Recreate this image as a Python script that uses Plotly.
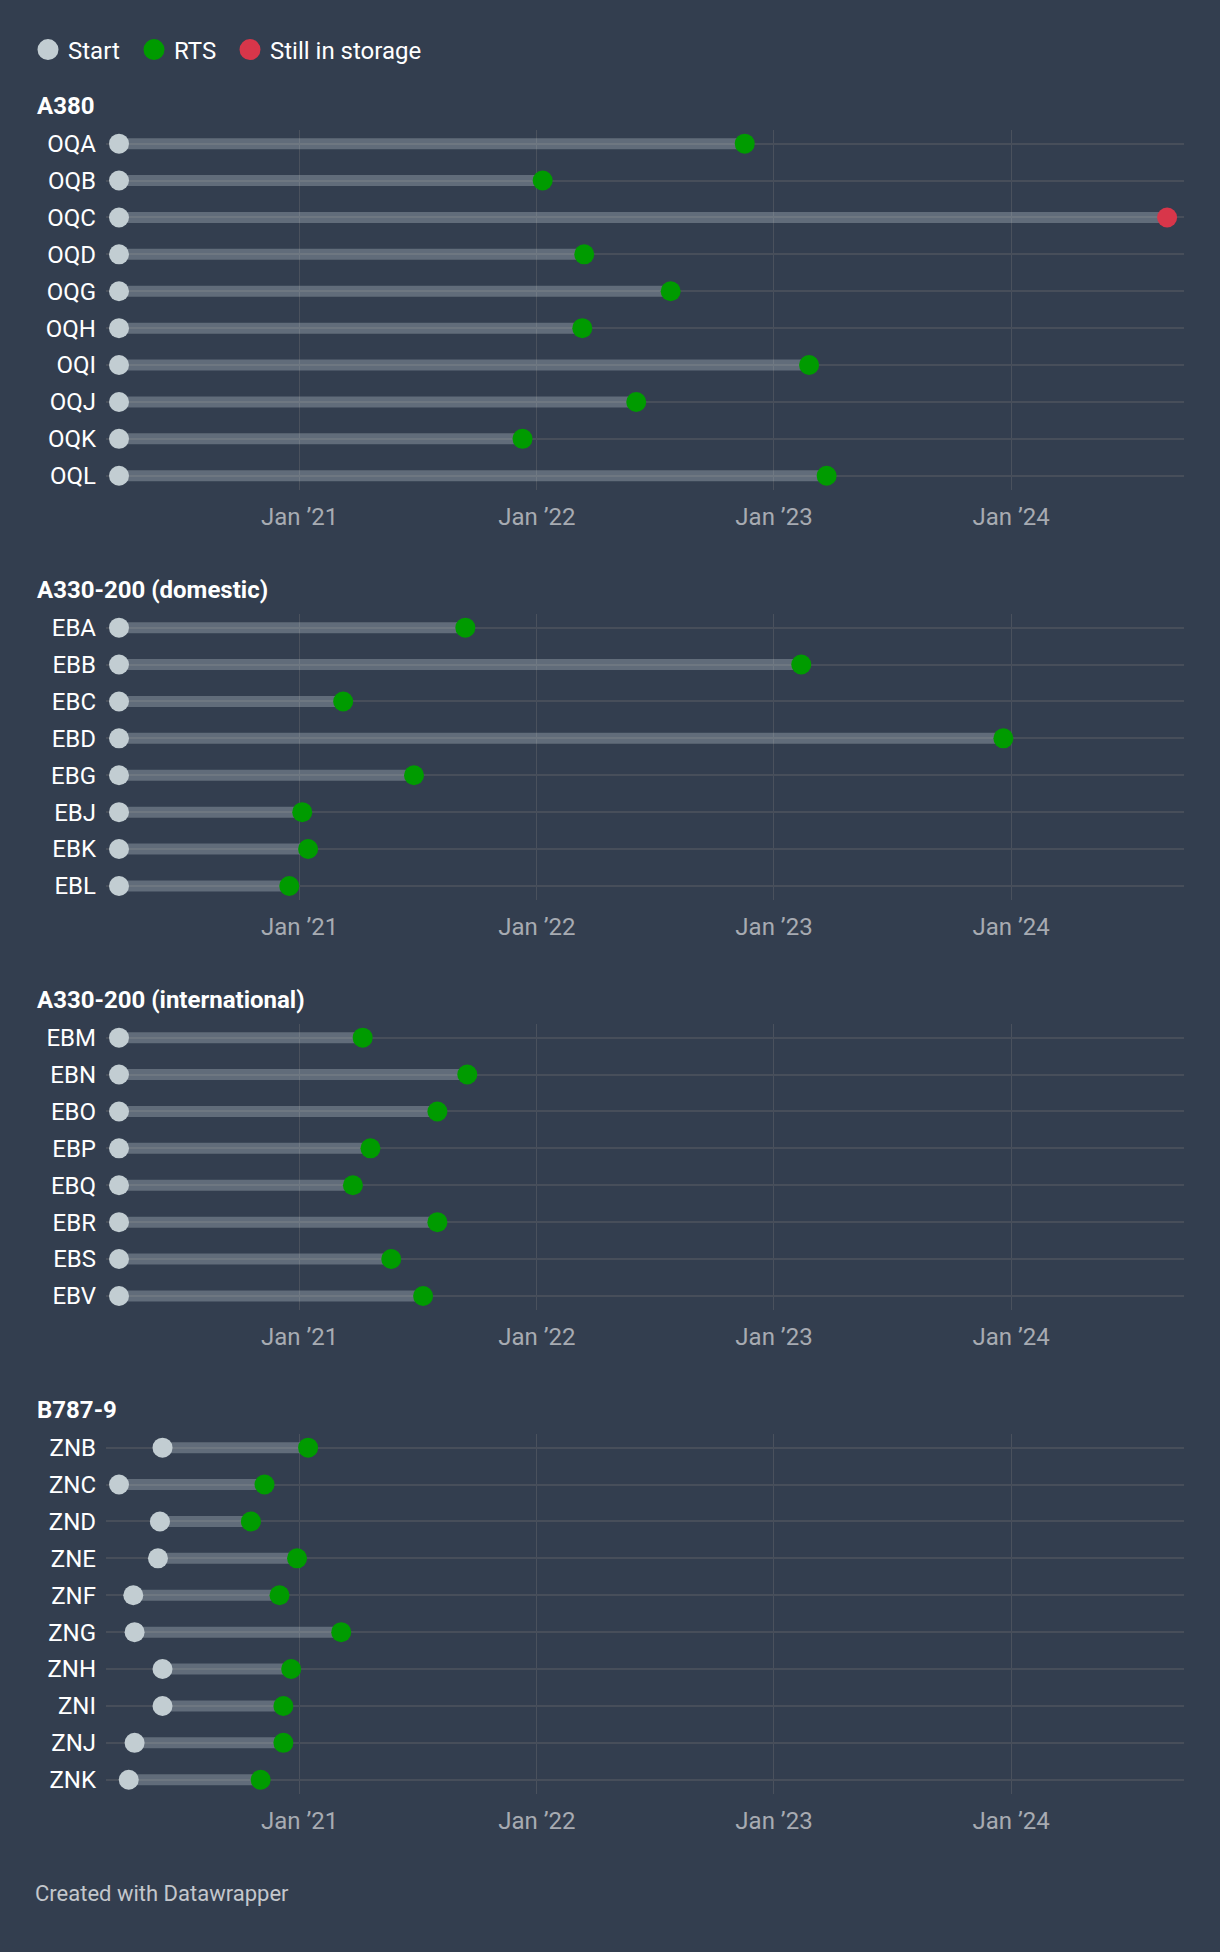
import plotly.graph_objects as go

# ---------------- data ----------------
a380_regs = ["OQA", "OQB", "OQC", "OQD", "OQG", "OQH", "OQI", "OQJ", "OQK", "OQL"]
a380_start = ["2020-03-29"] * 10
a380_end = ["2022-11-17", "2022-01-10", "2024-08-28", "2022-03-15", "2022-07-26",
            "2022-03-12", "2023-02-24", "2022-06-03", "2021-12-10", "2023-03-23"]
a380_status = ["RTS", "RTS", "Still in storage", "RTS", "RTS", "RTS", "RTS", "RTS", "RTS", "RTS"]

dom_regs = ["EBA", "EBB", "EBC", "EBD", "EBG", "EBJ", "EBK", "EBL"]
dom_start = ["2020-03-29"] * 8
dom_end = ["2021-09-13", "2023-02-12", "2021-03-09", "2023-12-20",
           "2021-06-26", "2021-01-05", "2021-01-14", "2020-12-16"]
dom_status = ["RTS"] * 8

int_regs = ["EBM", "EBN", "EBO", "EBP", "EBQ", "EBR", "EBS", "EBV"]
int_start = ["2020-03-29"] * 8
int_end = ["2021-04-08", "2021-09-16", "2021-08-01", "2021-04-20",
           "2021-03-24", "2021-08-01", "2021-05-22", "2021-07-10"]
int_status = ["RTS"] * 8

b787_regs = ["ZNB", "ZNC", "ZND", "ZNE", "ZNF", "ZNG", "ZNH", "ZNI", "ZNJ", "ZNK"]
b787_start = ["2020-06-04", "2020-03-29", "2020-05-31", "2020-05-28", "2020-04-20",
              "2020-04-22", "2020-06-04", "2020-06-04", "2020-04-22", "2020-04-13"]
b787_end = ["2021-01-14", "2020-11-08", "2020-10-18", "2020-12-28", "2020-12-01",
            "2021-03-06", "2020-12-19", "2020-12-07", "2020-12-07", "2020-11-02"]
b787_status = ["RTS"] * 10

panel_titles = ["A380", "A330-200 (domestic)", "A330-200 (international)", "B787-9"]

tick_dates = ["2021-01-01", "2022-01-01", "2023-01-01", "2024-01-01"]
tick_labels = ["Jan \u201921", "Jan \u201922", "Jan \u201923", "Jan \u201924"]

legend_names = ["Start", "RTS", "Still in storage"]

# ---------------- style ----------------
W, H = 1220, 1952
BG = "#333e4f"
START_C = "#c2cdd2"
RTS_C = "#009b00"
STORE_C = "#d8364a"
BAR_C = "rgba(192,204,208,0.33)"
ROWLINE_C = "#474e5a"
GRID_C = "#4a515d"
FONT = "Roboto"
ROW = 36.9
TOPS = [130, 614, 1024, 1434]
X_LEFT, X_RIGHT = 106, 1184
X_RANGE = ["2020-03-09", "2024-09-23"]
MS = 20
LEGEND_X = [28, 134, 230]

panels = [
    (a380_regs, a380_start, a380_end, a380_status),
    (dom_regs, dom_start, dom_end, dom_status),
    (int_regs, int_start, int_end, int_status),
    (b787_regs, b787_start, b787_end, b787_status),
]

fig = go.Figure()

for i, (regs, starts, ends, status) in enumerate(panels):
    sfx = "" if i == 0 else str(i + 1)
    n = len(regs)
    rows = list(range(n))
    top = TOPS[i]
    bottom = top + (n - 1 + 0.76) * ROW

    bx, by = [], []
    for j in rows:
        bx += [starts[j], ends[j], None]
        by += [j, j, None]
    fig.add_trace(go.Scatter(x=bx, y=by, mode="lines",
                             line=dict(color=BAR_C, width=11),
                             xaxis="x" + sfx, yaxis="y" + sfx,
                             hoverinfo="skip", showlegend=False))
    fig.add_trace(go.Scatter(x=starts, y=rows, mode="markers",
                             marker=dict(color=START_C, size=MS),
                             xaxis="x" + sfx, yaxis="y" + sfx,
                             cliponaxis=False, showlegend=False, name="Start"))
    for st, col in (("RTS", RTS_C), ("Still in storage", STORE_C)):
        xs = [ends[j] for j in rows if status[j] == st]
        ys = [j for j in rows if status[j] == st]
        if xs:
            fig.add_trace(go.Scatter(x=xs, y=ys, mode="markers",
                                     marker=dict(color=col, size=MS),
                                     xaxis="x" + sfx, yaxis="y" + sfx,
                                     cliponaxis=False, showlegend=False, name=st))

    fig.layout["xaxis" + sfx] = dict(
        domain=[X_LEFT / W, X_RIGHT / W], range=X_RANGE, type="date",
        anchor="y" + sfx, tickvals=tick_dates, ticktext=tick_labels,
        showgrid=True, gridcolor=GRID_C, gridwidth=1, zeroline=False,
        showline=False, ticks="", ticklabelstandoff=10,
        tickfont=dict(family=FONT, size=24, color="#a7abb2"), fixedrange=True)
    fig.layout["yaxis" + sfx] = dict(
        domain=[1 - bottom / H, 1 - top / H], range=[n - 1 + 0.39, -0.37],
        anchor="x" + sfx, tickmode="array", tickvals=rows, ticktext=regs,
        showgrid=True, gridcolor=ROWLINE_C, gridwidth=2, zeroline=False,
        showline=False, ticks="", ticklabelstandoff=9,
        tickfont=dict(family=FONT, size=24, color="#ffffff"), fixedrange=True)

    fig.add_annotation(text="<b>" + panel_titles[i] + "</b>", xref="paper", yref="paper",
                       x=35 / W, y=1 - (top - 24) / H, xanchor="left", yanchor="middle",
                       showarrow=False, font=dict(family=FONT, size=24, color="#ffffff"))

# legend-only entries, one legend box each
legend_keys = ["legend", "legend2", "legend3"]
for name, col, lk in zip(legend_names, [START_C, RTS_C, STORE_C], legend_keys):
    fig.add_trace(go.Scatter(x=[None], y=[None], mode="markers", name=name,
                             marker=dict(color=col, size=16, line=dict(color=col, width=5)),
                             showlegend=True, legend=lk))

fig.add_annotation(text="Created with Datawrapper", xref="paper", yref="paper",
                   x=33 / W, y=1 - 1893 / H, xanchor="left", yanchor="middle",
                   showarrow=False, font=dict(family=FONT, size=22, color="#c3c7cc"))

legend_common = dict(orientation="h", xanchor="left", y=1 - 50 / H, yanchor="middle",
                     font=dict(family=FONT, size=24, color="#ffffff"),
                     bgcolor="rgba(0,0,0,0)", itemclick=False, itemdoubleclick=False)

fig.update_layout(
    width=W, height=H, margin=dict(l=0, r=0, t=0, b=0),
    paper_bgcolor=BG, plot_bgcolor=BG,
    font=dict(family=FONT, color="#ffffff"),
    showlegend=True,
    legend=dict(x=LEGEND_X[0] / W, **legend_common),
    legend2=dict(x=LEGEND_X[1] / W, **legend_common),
    legend3=dict(x=LEGEND_X[2] / W, **legend_common),
)

fig.write_html("out.html", config={"displayModeBar": False},
               post_script="document.body.style.margin='0';document.body.style.overflow='hidden';")
